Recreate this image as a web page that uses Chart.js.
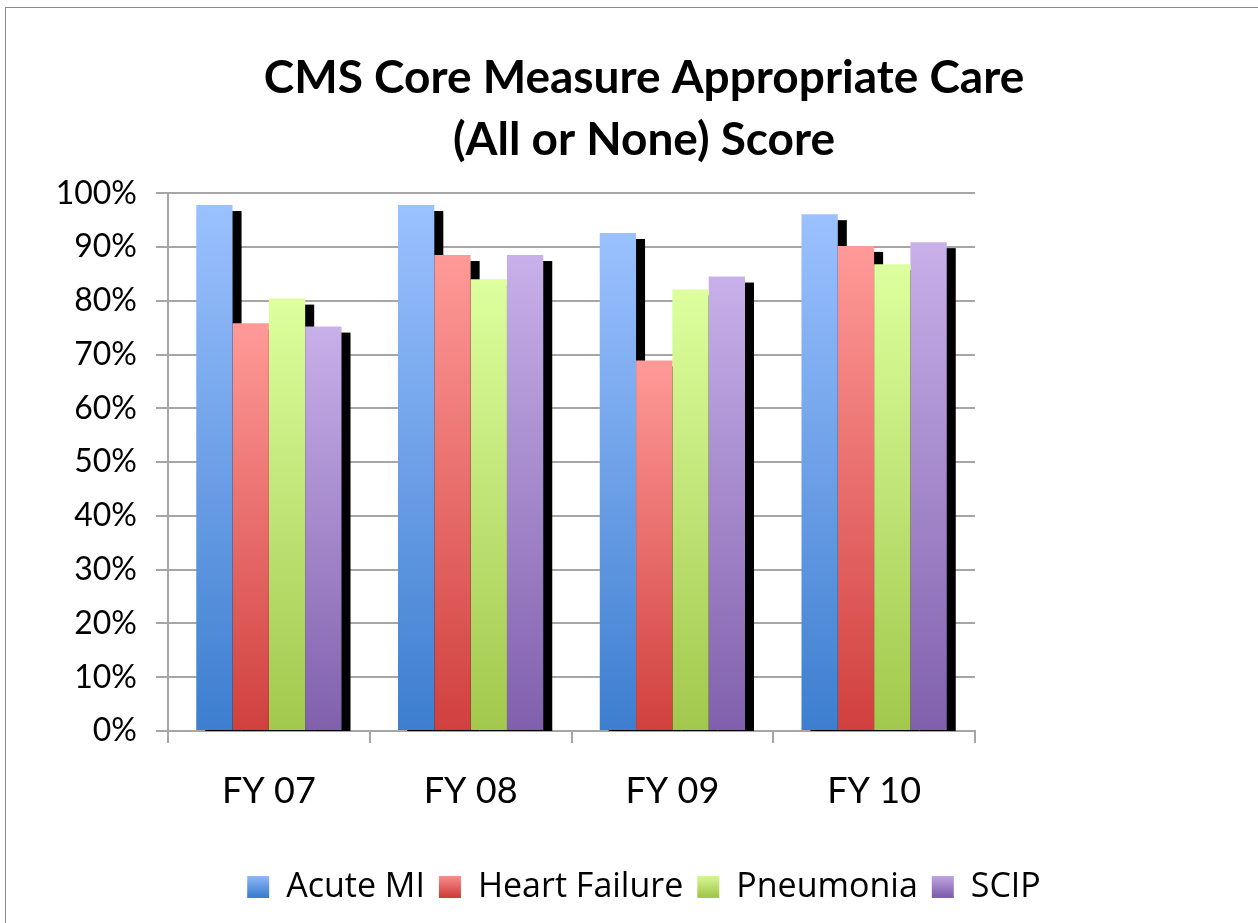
<!DOCTYPE html>
<html>
<head>
<meta charset="utf-8">
<script src="https://cdn.jsdelivr.net/npm/chart.js@4"></script>
<style>
  html, body { margin: 0; padding: 0; background: #fff; }
  #wrap { position: relative; width: 1258px; height: 923px; }
  #frame { position: absolute; left: 5px; top: 7px; right: -2px; bottom: -2px; border-top: 1px solid #8a8a8a; border-left: 1px solid #8a8a8a; }
  canvas { position: absolute; left: 0; top: 0; }
</style>
</head>
<body>
<div id="wrap">
  <div id="frame"></div>
  <canvas id="cmsChart" width="1258" height="923"></canvas>
</div>
<script>
// data
const categories = ['FY 07', 'FY 08', 'FY 09', 'FY 10'];
const acuteMI = [97.8, 97.8, 92.6, 96.1];
const heartFailure = [75.8, 88.5, 68.9, 90.2];
const pneumonia = [80.4, 84.0, 82.1, 86.8];
const scip = [75.2, 88.5, 84.5, 90.9];
const seriesNames = ['Acute MI', 'Heart Failure', 'Pneumonia', 'SCIP'];

// light (top) / dark (bottom) colour for each series
const topColors = ['#9bc1ff', '#ff9a98', '#ddff9e', '#c8b0ea'];
const bottomColors = ['#3d7ecf', '#d0403e', '#a2c84c', '#8060ac'];

const FONT = 'Lato';

function barGrad(i) {
  return function(c) {
    const chart = c.chart;
    const y = chart.scales.y;
    if (!chart.chartArea || !y || c.raw == null) return topColors[i];
    const y0 = y.getPixelForValue(c.raw);
    const y1 = y.getPixelForValue(0);
    const g = chart.ctx.createLinearGradient(0, y0, 0, y1);
    g.addColorStop(0, topColors[i]);
    g.addColorStop(1, bottomColors[i]);
    return g;
  };
}

// black drop shadow behind every bar (offset right/down)
const shadowPlugin = {
  id: 'barShadow',
  beforeDatasetsDraw(chart) {
    const ctx = chart.ctx;
    const a = chart.chartArea;
    ctx.save();
    ctx.beginPath();
    ctx.rect(a.left, a.top, a.right - a.left + 20, a.bottom - a.top);
    ctx.clip();
    ctx.fillStyle = '#000';
    chart.data.datasets.forEach((d, i) => {
      chart.getDatasetMeta(i).data.forEach(bar => {
        const w = bar.width;
        ctx.fillRect(bar.x - w / 2 + 9, bar.y + 6, w, bar.base - bar.y);
      });
    });
    ctx.restore();
  }
};

const ctx = document.getElementById('cmsChart');
const values = [acuteMI, heartFailure, pneumonia, scip];

new Chart(ctx, {
  type: 'bar',
  data: {
    labels: categories,
    datasets: seriesNames.map((name, i) => ({
      label: name,
      data: values[i],
      backgroundColor: barGrad(i),
      borderWidth: 0,
      barPercentage: 1,
      categoryPercentage: 0.72
    }))
  },
  plugins: [shadowPlugin],
  options: {
    responsive: false,
    animation: false,
    layout: { padding: { left: 30, right: 0, top: 0, bottom: 9 } },
    plugins: {
      title: {
        display: true,
        text: ['CMS Core Measure Appropriate Care', '(All or None) Score'],
        color: '#000',
        font: { family: FONT, size: 46, weight: 'bold', lineHeight: 1.35 },
        padding: { top: 47, bottom: 22 }
      },
      legend: {
        position: 'bottom',
        labels: {
          color: '#000',
          font: { family: 'Open Sans', size: 34 },
          boxWidth: 22,
          boxHeight: 22,
          padding: 14,
          generateLabels(chart) {
            return chart.data.datasets.map((d, i) => {
              const g = chart.ctx.createLinearGradient(0, 873, 0, 896);
              g.addColorStop(0, topColors[i]);
              g.addColorStop(1, bottomColors[i]);
              return {
                text: d.label,
                fillStyle: g,
                strokeStyle: g,
                lineWidth: 0,
                fontColor: '#000',
                datasetIndex: i
              };
            });
          }
        }
      },
      tooltip: { enabled: false }
    },
    scales: {
      x: {
        grid: { drawOnChartArea: false, drawTicks: true, tickLength: 12, color: '#a6a6a6', lineWidth: 2 },
        border: { color: '#a6a6a6', width: 2 },
        ticks: { color: '#000', font: { family: FONT, size: 36 }, padding: 27 },
        afterFit(scale) { scale.height = 125; }
      },
      y: {
        min: 0,
        max: 100,
        ticks: {
          stepSize: 10,
          color: '#000',
          font: { family: FONT, size: 32 },
          padding: 19,
          callback: v => v + '%'
        },
        grid: { color: '#a6a6a6', lineWidth: 2, tickLength: 12 },
        border: { color: '#a6a6a6', width: 2 },
        afterFit(scale) { scale.width = 138; }
      },
      y2: {
        position: 'right',
        display: true,
        min: 0,
        max: 100,
        grid: { display: false },
        border: { display: false },
        ticks: { display: false },
        afterFit(scale) { scale.width = 283; }
      }
    }
  }
});
</script>
</body>
</html>
